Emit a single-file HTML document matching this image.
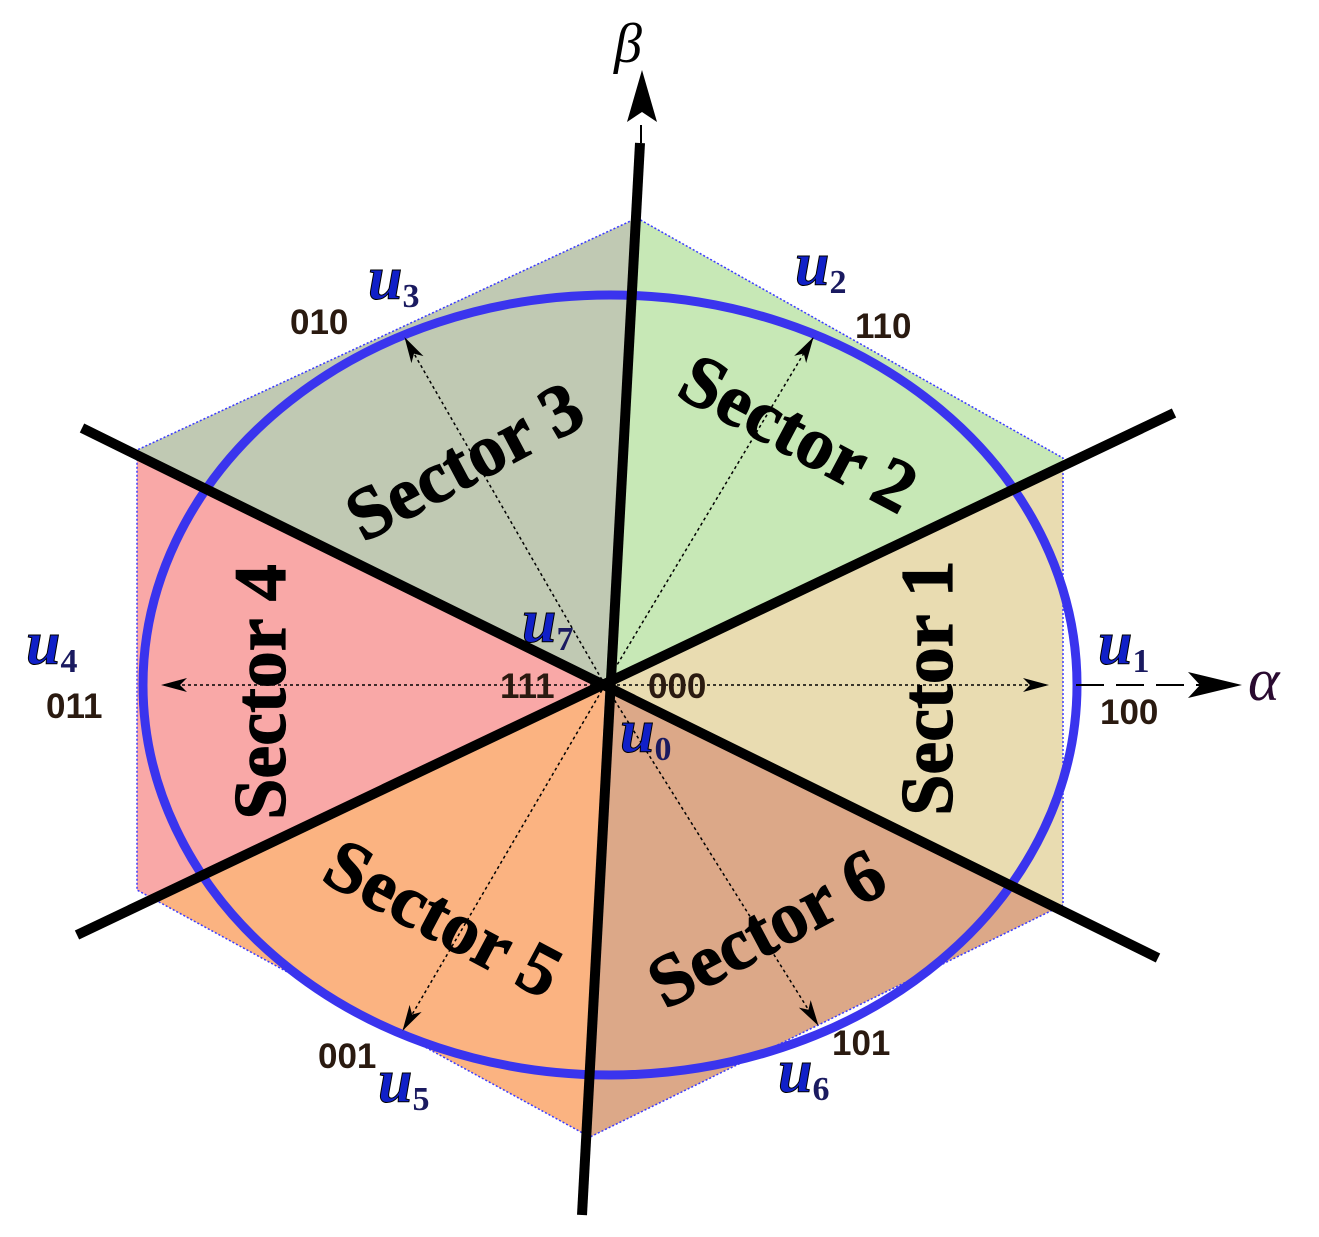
<!DOCTYPE html>
<html><head><meta charset="utf-8"><style>
html,body{margin:0;padding:0;background:#fff;overflow:hidden;width:1319px;height:1237px}
svg{display:block}
.sec{font-family:"Liberation Serif",serif;font-weight:bold;font-size:74px;fill:#000;stroke:#000;stroke-width:1.2}
.u{font-family:"Liberation Serif",serif;font-style:italic;font-weight:bold;font-size:62px;fill:#1020c8;stroke:#000;stroke-width:1}
.sub{font-family:"Liberation Serif",serif;font-style:normal;font-size:34px;fill:#1a1a60}
.bin{font-family:"Liberation Sans",sans-serif;font-weight:bold;font-size:35px;fill:#2a1a10}
</style></head><body>
<svg width="1319" height="1237" viewBox="0 0 1319 1237" xmlns="http://www.w3.org/2000/svg">
<defs>
<clipPath id="hx"><polygon points="637,218 1063,458 1063,905 590,1137 137,890 137,450"/></clipPath>
<marker id="ah" markerWidth="26" markerHeight="14" refX="25" refY="7" orient="auto" markerUnits="userSpaceOnUse" viewBox="0 0 26 14"><path d="M0,0 L26,7 L0,14 L7,7z" fill="#000"/></marker>
</defs>
<g clip-path="url(#hx)">
<polygon points="605,685 710,-941 2312,-131" fill="#c7e8b6"/>
<polygon points="605,685 2312,-131 2264,1504" fill="#e9dcb1"/>
<polygon points="605,685 2264,1504 536,2275" fill="#dca888"/>
<polygon points="605,685 536,2275 -979,1435" fill="#fbb381"/>
<polygon points="605,685 -979,1435 -964,-86" fill="#f9a8a7"/>
<polygon points="605,685 -964,-86 710,-941" fill="#c0c9b3"/>
</g>
<polygon points="637,218 1063,458 1063,905 590,1137 137,890 137,450" fill="none" stroke="#3b3bff" stroke-width="1.5" stroke-dasharray="2,2"/>
<ellipse cx="610" cy="685" rx="467" ry="390" fill="none" stroke="#3a34ee" stroke-width="9"/>
<g stroke="#000" stroke-width="1.5" stroke-dasharray="3,3" fill="none">
<line x1="605" y1="685" x2="1048" y2="685" marker-end="url(#ah)"/>
<line x1="605" y1="685" x2="813" y2="338" marker-end="url(#ah)"/>
<line x1="605" y1="685" x2="405" y2="338" marker-end="url(#ah)"/>
<line x1="605" y1="685" x2="162" y2="685" marker-end="url(#ah)"/>
<line x1="605" y1="685" x2="403" y2="1030" marker-end="url(#ah)"/>
<line x1="605" y1="685" x2="818" y2="1025" marker-end="url(#ah)"/>
</g>
<g stroke="#000" stroke-width="10" stroke-linecap="butt">
<line x1="640" y1="143" x2="582" y2="1215"/>
<line x1="82" y1="428" x2="1158" y2="958"/>
<line x1="77" y1="935" x2="1174" y2="413"/>
</g>
<line x1="641" y1="143" x2="641" y2="125" stroke="#000" stroke-width="2"/>
<path d="M642,70 L657,122 L642,112 L627,122z" fill="#000"/>
<line x1="1076" y1="685" x2="1200" y2="685" stroke="#000" stroke-width="2" stroke-dasharray="28,12"/>
<path d="M1242,685 L1188,672 L1200,685 L1188,698z" fill="#000"/>
<text x="614" y="62" font-family="Liberation Serif,serif" font-style="italic" font-size="56" fill="#000">β</text>
<text x="1248" y="700" font-family="Liberation Serif,serif" font-style="italic" font-size="60" fill="#2a0a30">α</text>
<text class="sec" transform="translate(468,468) rotate(-28)" text-anchor="middle" dominant-baseline="middle">Sector 3</text>
<text class="sec" transform="translate(795,440) rotate(28)" text-anchor="middle" dominant-baseline="middle">Sector 2</text>
<text class="sec" transform="translate(935,688) rotate(-90)" text-anchor="middle" dominant-baseline="middle">Sector 1</text>
<text class="sec" transform="translate(268,692) rotate(-90)" text-anchor="middle" dominant-baseline="middle">Sector 4</text>
<text class="sec" transform="translate(440,925) rotate(28)" text-anchor="middle" dominant-baseline="middle">Sector 5</text>
<text class="sec" transform="translate(770,935) rotate(-28)" text-anchor="middle" dominant-baseline="middle">Sector 6</text>
<text class="u" x="1098" y="664">u<tspan class="sub" dy="8" stroke="none">1</tspan></text>
<text class="u" x="795" y="285">u<tspan class="sub" dy="8" stroke="none">2</tspan></text>
<text class="u" x="368" y="299">u<tspan class="sub" dy="8" stroke="none">3</tspan></text>
<text class="u" x="26" y="664">u<tspan class="sub" dy="8" stroke="none">4</tspan></text>
<text class="u" x="378" y="1102">u<tspan class="sub" dy="8" stroke="none">5</tspan></text>
<text class="u" x="778" y="1092">u<tspan class="sub" dy="8" stroke="none">6</tspan></text>
<text class="u" x="522" y="642">u<tspan class="sub" dy="8" stroke="none">7</tspan></text>
<text class="u" x="620" y="752">u<tspan class="sub" dy="8" stroke="none">0</tspan></text>
<text class="bin" x="1100" y="724">100</text>
<text class="bin" x="855" y="338">110</text>
<text class="bin" x="290" y="334">010</text>
<text class="bin" x="46" y="718">011</text>
<text class="bin" x="318" y="1068">001</text>
<text class="bin" x="832" y="1055">101</text>
<text class="bin" x="500" y="698">111</text>
<text class="bin" x="648" y="698">000</text>
</svg>
</body></html>
